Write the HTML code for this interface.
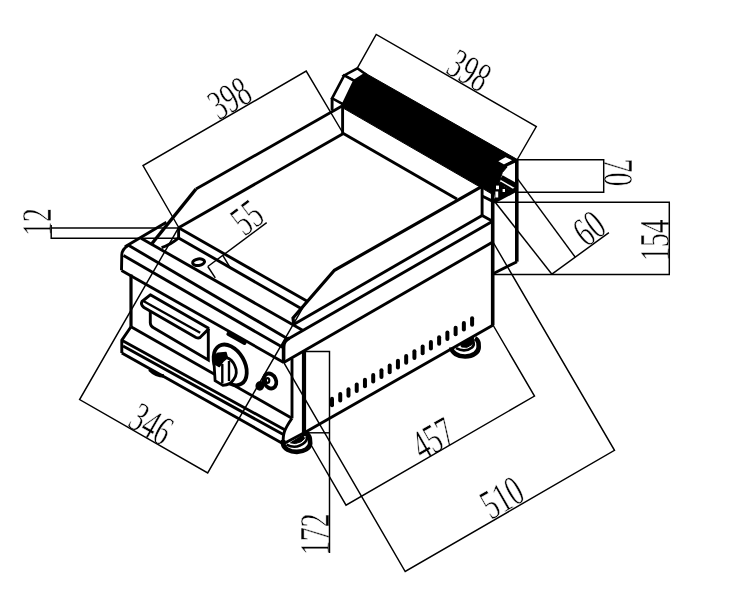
<!DOCTYPE html>
<html><head><meta charset="utf-8"><title>Griddle dimensions</title>
<style>
html,body{margin:0;padding:0;background:#fff;}
svg{display:block}
svg *{stroke:#000;}
svg text{stroke:#fff;fill:#000;font-family:"Liberation Serif",serif;}
</style></head><body>
<svg width="745" height="598" viewBox="0 0 745 598" style="filter:grayscale(1)" fill="none" stroke-linecap="butt">
<rect x="0" y="0" width="745" height="598" fill="#fff" stroke="none" style="stroke:none"/>
<text transform="translate(236.6,110.3) rotate(-30) skewX(0) scale(0.65,1)" font-size="42.5" text-anchor="middle" stroke-width="0.5" vector-effect="non-scaling-stroke" paint-order="fill stroke" >398</text>
<text transform="translate(462.2,82.7) rotate(30) skewX(0) scale(0.65,1)" font-size="42.5" text-anchor="middle" stroke-width="0.5" vector-effect="non-scaling-stroke" paint-order="fill stroke" >398</text>
<text transform="translate(51.1,222.0) rotate(-90) skewX(0) scale(0.65,1)" font-size="42.5" text-anchor="middle" stroke-width="0.5" vector-effect="non-scaling-stroke" paint-order="fill stroke" >12</text>
<text transform="translate(255.6,228.6) rotate(-37) skewX(0) scale(0.65,1)" font-size="42.5" text-anchor="middle" stroke-width="0.5" vector-effect="non-scaling-stroke" paint-order="fill stroke" >55</text>
<text transform="translate(144.2,436.1) rotate(30) skewX(0) scale(0.65,1)" font-size="42.5" text-anchor="middle" stroke-width="0.5" vector-effect="non-scaling-stroke" paint-order="fill stroke" >346</text>
<text transform="translate(440.1,450.7) rotate(-30) skewX(0) scale(0.65,1)" font-size="42.5" text-anchor="middle" stroke-width="0.5" vector-effect="non-scaling-stroke" paint-order="fill stroke" >457</text>
<text transform="translate(508.9,509.8) rotate(-30) skewX(0) scale(0.65,1)" font-size="42.5" text-anchor="middle" stroke-width="0.5" vector-effect="non-scaling-stroke" paint-order="fill stroke" >510</text>
<text transform="translate(328.6,534.2) rotate(-90) skewX(0) scale(0.65,1)" font-size="42.5" text-anchor="middle" stroke-width="0.5" vector-effect="non-scaling-stroke" paint-order="fill stroke" >172</text>
<text transform="translate(604.1,172.6) rotate(90) skewX(0) scale(0.65,1)" font-size="42.5" text-anchor="middle" stroke-width="0.5" vector-effect="non-scaling-stroke" paint-order="fill stroke" >70</text>
<text transform="translate(668.6,240.2) rotate(-90) skewX(0) scale(0.65,1)" font-size="42.5" text-anchor="middle" stroke-width="0.5" vector-effect="non-scaling-stroke" paint-order="fill stroke" >154</text>
<text transform="translate(597.6,239.6) rotate(-37) skewX(0) scale(0.65,1)" font-size="42.5" text-anchor="middle" stroke-width="0.5" vector-effect="non-scaling-stroke" paint-order="fill stroke" >60</text>
<polyline points="179,228 143,165.6 306.2,71.1 342,131.5" stroke-width="1.45" fill="none" />
<polyline points="357.3,68.1 376.2,34.4 536.3,126.5 517,160" stroke-width="1.45" fill="none" />
<polyline points="180,227.9 51.2,227.9" stroke-width="1.45" fill="none" />
<polyline points="180,238.2 51.2,238.2" stroke-width="1.45" fill="none" />
<line x1="51.2" y1="225" x2="51.2" y2="238.9" stroke-width="1.45" />
<line x1="207.8" y1="266.5" x2="266.7" y2="222.7" stroke-width="1.45" />
<line x1="222.8" y1="255.3" x2="230.3" y2="267.8" stroke-width="1.45" />
<line x1="207.8" y1="266.5" x2="215.3" y2="277.8" stroke-width="1.45" />
<polyline points="178.6,227.7 79.6,399.6 207.7,472.9 306.9,300.7" stroke-width="1.45" fill="none" />
<polyline points="310.5,444 346,505.2 534.5,396.1 493,325" stroke-width="1.45" fill="none" />
<polyline points="283.4,361.8 405.2,571.5 614.5,450.3 493,242" stroke-width="1.45" fill="none" />
<polyline points="305,351.5 329.5,351.5 329.5,553" stroke-width="1.45" fill="none" />
<line x1="305" y1="432.8" x2="329.5" y2="432.8" stroke-width="1.45" />
<polyline points="517,159.7 603.7,159.7 603.7,192.2 517,192.2" stroke-width="1.45" fill="none" />
<polyline points="493,202.3 669.3,202.3 669.3,274.5 493,274.5" stroke-width="1.45" fill="none" />
<line x1="551.9" y1="274.2" x2="608.9" y2="232.6" stroke-width="1.45" />
<line x1="517.6" y1="178.9" x2="575.3" y2="257.3" stroke-width="1.45" />
<line x1="494.8" y1="201.7" x2="551.9" y2="274.2" stroke-width="1.45" />
<line x1="196" y1="189" x2="342" y2="106" stroke-width="2.8" />
<line x1="196" y1="189" x2="152" y2="243.5" stroke-width="3.4" />
<line x1="125" y1="246.7" x2="166.4" y2="222.2" stroke-width="2.9" />
<line x1="178.6" y1="227.7" x2="343.4" y2="133.6" stroke-width="2.9" />
<line x1="178.6" y1="227.7" x2="178.6" y2="237.9" stroke-width="2.9" />
<path d="M178.6,237.9 Q171,244.5 161.6,247.7" stroke-width="2.9" fill="none" />
<line x1="178.6" y1="227.7" x2="306.8" y2="301.1" stroke-width="2.9" />
<line x1="178.6" y1="237.9" x2="301.5" y2="308.7" stroke-width="2.9" />
<line x1="141" y1="238.2" x2="302.6" y2="330.3" stroke-width="2.9" />
<line x1="128.5" y1="245.3" x2="288" y2="339" stroke-width="2.9" />
<line x1="123.5" y1="255.4" x2="283" y2="347.6" stroke-width="2.9" />
<line x1="121.5" y1="270.5" x2="283.7" y2="362.4" stroke-width="2.9" />
<path d="M128.5,245.3 Q122,249 121.8,255 L121.5,270.3" stroke-width="2.9" fill="none" />
<path d="M289.5,338.2 Q283.6,340.8 283.6,347 L283.6,362.6" stroke-width="3.6" fill="none" />
<line x1="288.5" y1="338.8" x2="492.6" y2="221.2" stroke-width="2.9" />
<line x1="294" y1="324.3" x2="482.1" y2="215.5" stroke-width="2.9" />
<line x1="283.7" y1="362.6" x2="492.8" y2="242" stroke-width="2.9" />
<polyline points="293.8,324.3 293,318 334.4,270.3 482,186.3" stroke-width="3.2" fill="none" />
<line x1="342.5" y1="133" x2="456.9" y2="199" stroke-width="2.9" />
<line x1="342.6" y1="101" x2="342.6" y2="133.6" stroke-width="2.9" />
<line x1="131" y1="274.5" x2="131" y2="326.8" stroke-width="3.2" />
<polyline points="131,326.8 121.8,340.3 121.8,352.9" stroke-width="2.9" fill="none" />
<line x1="131" y1="326.8" x2="291.5" y2="418" stroke-width="2.9" />
<line x1="121.8" y1="340.3" x2="284.7" y2="429.8" stroke-width="2.9" />
<line x1="123" y1="346" x2="283.3" y2="434.6" stroke-width="2.9" />
<line x1="121.8" y1="352.9" x2="283.1" y2="443.7" stroke-width="2.9" />
<line x1="292" y1="358.5" x2="292" y2="418.3" stroke-width="2.9" />
<path d="M292,418.3 Q286,427 284.3,432 Q283,436 283.1,444" stroke-width="2.9" fill="none" />
<line x1="304" y1="351" x2="304" y2="436" stroke-width="4.2" />
<line x1="305.2" y1="432.3" x2="492.8" y2="325.2" stroke-width="2.9" />
<line x1="492.7" y1="188" x2="492.7" y2="325.2" stroke-width="3.6" />
<line x1="516.8" y1="159" x2="516.8" y2="261.7" stroke-width="3.6" />
<line x1="517" y1="261.7" x2="493.5" y2="273.5" stroke-width="2.9" />
<line x1="482.1" y1="186.8" x2="482.1" y2="215.5" stroke-width="2.9" />
<line x1="482.1" y1="215.5" x2="492.6" y2="221.2" stroke-width="2.9" />
<line x1="332.0" y1="398.7" x2="332.0" y2="405.3" stroke-width="4" stroke-linecap="round"/>
<line x1="340.24117647058824" y1="393.9647058823529" x2="340.24117647058824" y2="400.56470588235294" stroke-width="4" stroke-linecap="round"/>
<line x1="348.4823529411765" y1="389.22941176470584" x2="348.4823529411765" y2="395.82941176470587" stroke-width="4" stroke-linecap="round"/>
<line x1="356.72352941176473" y1="384.49411764705883" x2="356.72352941176473" y2="391.09411764705885" stroke-width="4" stroke-linecap="round"/>
<line x1="364.964705882353" y1="379.75882352941176" x2="364.964705882353" y2="386.3588235294118" stroke-width="4" stroke-linecap="round"/>
<line x1="373.20588235294116" y1="375.0235294117647" x2="373.20588235294116" y2="381.6235294117647" stroke-width="4" stroke-linecap="round"/>
<line x1="381.4470588235294" y1="370.2882352941176" x2="381.4470588235294" y2="376.88823529411764" stroke-width="4" stroke-linecap="round"/>
<line x1="389.68823529411765" y1="365.5529411764706" x2="389.68823529411765" y2="372.1529411764706" stroke-width="4" stroke-linecap="round"/>
<line x1="397.9294117647059" y1="360.8176470588235" x2="397.9294117647059" y2="367.41764705882355" stroke-width="4" stroke-linecap="round"/>
<line x1="406.17058823529413" y1="356.08235294117645" x2="406.17058823529413" y2="362.6823529411765" stroke-width="4" stroke-linecap="round"/>
<line x1="414.4117647058824" y1="351.3470588235294" x2="414.4117647058824" y2="357.9470588235294" stroke-width="4" stroke-linecap="round"/>
<line x1="422.6529411764706" y1="346.61176470588236" x2="422.6529411764706" y2="353.2117647058824" stroke-width="4" stroke-linecap="round"/>
<line x1="430.8941176470588" y1="341.8764705882353" x2="430.8941176470588" y2="348.4764705882353" stroke-width="4" stroke-linecap="round"/>
<line x1="439.13529411764705" y1="337.1411764705882" x2="439.13529411764705" y2="343.74117647058824" stroke-width="4" stroke-linecap="round"/>
<line x1="447.3764705882353" y1="332.40588235294115" x2="447.3764705882353" y2="339.00588235294117" stroke-width="4" stroke-linecap="round"/>
<line x1="455.61764705882354" y1="327.67058823529413" x2="455.61764705882354" y2="334.27058823529416" stroke-width="4" stroke-linecap="round"/>
<line x1="463.8588235294118" y1="322.93529411764706" x2="463.8588235294118" y2="329.5352941176471" stroke-width="4" stroke-linecap="round"/>
<line x1="472.1" y1="318.2" x2="472.1" y2="324.8" stroke-width="4" stroke-linecap="round"/>
<path d="M451.3,347.5 A13.7,9.3 0 0 0 478.7,347 L478.5,343 Q478,340 475,338.3" stroke-width="4.6" fill="none" />
<path d="M456,348.2 Q465,353 472,347.5 Q475,344.5 473,340.5" stroke-width="2.6" fill="none" />
<polygon points="460.5,344 473,336.8 473.8,340 472,344.5 467,347.3 461.5,347" stroke-width="1" fill="#000" />
<line x1="283.1" y1="444" x2="305.1" y2="432.2" stroke-width="2.9" />
<path d="M283.1,440 L283.1,444 A13.6,8.8 0 0 0 310.2,443.5 L309.8,438.5 Q309,434.5 305.5,432.8" stroke-width="4.6" fill="none" />
<path d="M286.5,444.6 Q296.5,450 305.2,442 Q307.8,439 306.5,436" stroke-width="2.6" fill="none" />
<polygon points="290.5,442.8 303.2,434.8 304.5,438.7 301,441.8 295.4,443.6" stroke-width="1" fill="#000" />
<path d="M149.5,369.5 Q156,376 164,376" stroke-width="3.6" fill="none" />
<ellipse cx="230.2" cy="364.9" rx="22" ry="14.3" stroke-width="3.8" fill="none" transform="rotate(60 230.2 364.9)"/>
<path d="M226.6,357.6 L214.5,356 L213.9,361 L215.1,380.6 L222.9,385.4 C228,385 232,382.5 233.8,379.3 C236.8,375 236.8,370 235,366.1 C233,361 230,358.6 226.6,357.6 Z" stroke-width="2.8" fill="#fff" />
<polygon points="215.1,355.2 218.1,353.2 226,352.6 227.4,357.6 222.9,361.5 219.3,366.5 214.2,363.6" stroke-width="1.5" fill="#000" stroke-linejoin="round"/>
<line x1="222.3" y1="364" x2="222.3" y2="383.5" stroke-width="2.4" />
<line x1="229" y1="361" x2="229" y2="381" stroke-width="2.4" />
<ellipse cx="270" cy="381" rx="6" ry="7.8" stroke-width="3.8" fill="none" transform="rotate(-25 270 381)"/>
<ellipse cx="267.5" cy="380.5" rx="1.8" ry="2.4" stroke-width="2.2" fill="none"/>
<ellipse cx="259.8" cy="386" rx="3.6" ry="4" stroke-width="1.5" fill="#000"/>
<line x1="260" y1="384" x2="267" y2="381" stroke-width="4" />
<path d="M150.3,311 L150.3,323 Q150.5,326.5 154,328 L208.3,360 L208.3,328.5" stroke-width="2.9" fill="none" />
<path d="M209,328.6 L150.3,294.8 L142,301.5 Q140.3,304.5 144,307.5 L196,337.5 Q199.5,339.2 201.5,336 L209,328.6" stroke-width="2.9" fill="none" stroke-linejoin="round"/>
<line x1="143.8" y1="301.3" x2="200.2" y2="332.7" stroke-width="2.4" />
<line x1="228.5" y1="334" x2="244.5" y2="342.8" stroke-width="4.2" stroke-linecap="round"/>
<polygon points="365,73 517.5,159.6 513.1,160.1 505.5,156.5 497,161.3 504.7,165.3 507.1,166.9 502.3,172.6 501,176.6 499.5,182 504,186 498,190 493,194.6 481,187.6 342.3,107.6 343,104.2 354.3,80.8" stroke-width="1" fill="#000" />
<polygon points="357.3,68.3 344.2,75.4 354.3,80.8 365.2,73.9" stroke-width="2.6" fill="#fff" />
<polygon points="344.2,75.4 332.1,98.3 343,104.2 354.3,80.8" stroke-width="2.6" fill="#fff" />
<line x1="332.1" y1="98.3" x2="332.1" y2="110.3" stroke-width="2.9" />
<polygon points="496.6,161.3 505.5,156.2 513.6,160.1 504.7,165.7" stroke-width="1.6" fill="#fff" />
<line x1="504.7" y1="165.8" x2="516" y2="160.5" stroke-width="3.2" />
<line x1="501.3" y1="177.3" x2="516.5" y2="186" stroke-width="5" />
<line x1="500" y1="182.5" x2="512.5" y2="190" stroke-width="2.6" />
<line x1="493.4" y1="201.6" x2="516.5" y2="189.3" stroke-width="4.5" />
<polygon points="494,191 499,184 512,191 496,200" stroke-width="1" fill="#000" />
<rect x="496" y="185.6" width="3" height="3.6" fill="#fff" stroke="none" style="stroke:none"/>
<rect x="502.6" y="189" width="2.4" height="3" fill="#fff" stroke="none" style="stroke:none"/>
<rect x="495.4" y="191.5" width="2.8" height="6" fill="#fff" stroke="none" style="stroke:none"/>
<line x1="482.1" y1="196" x2="493.4" y2="201.6" stroke-width="2.9" />
<ellipse cx="198.6" cy="262.2" rx="6" ry="3.3" stroke-width="3" fill="none" transform="rotate(-8 198.6 262.2)"/>
</svg>
</body></html>
